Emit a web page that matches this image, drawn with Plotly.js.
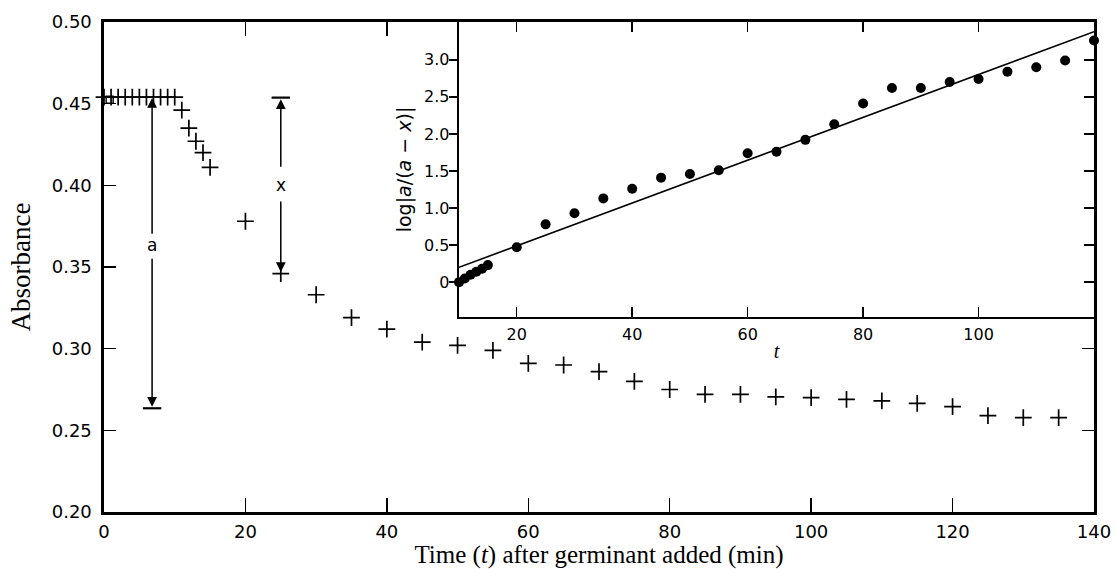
<!DOCTYPE html>
<html>
<head>
<meta charset="utf-8">
<script src="https://cdn.plot.ly/plotly-3.0.1.min.js"></script>
<style>html,body{margin:0;padding:0;background:#fff;}#chart{width:1117px;height:569px;}</style>
</head>
<body>
<div id="chart"></div>
<script>
// Main chart: absorbance vs time
var mainT = [0,1,2,3,4,5,6,7,8,9,10,11,12,13,14,15,20,25,30,35,40,45,50,55,60,65,70,75,80,85,90,95,100,105,110,115,120,125,130,135];
var mainA = [0.454,0.454,0.454,0.454,0.454,0.454,0.454,0.454,0.454,0.454,0.454,0.446,0.435,0.427,0.420,0.411,0.378,0.346,0.333,0.319,0.312,0.304,0.302,0.299,0.291,0.290,0.286,0.280,0.275,0.272,0.272,0.2705,0.270,0.269,0.268,0.2665,0.2645,0.259,0.2578,0.2578];
// initial reading (open square)
var startT = [0.8];
var startA = [0.4525];

// Inset: log[a/(a-x)] vs t
var insetT = [10,11,12,13,14,15,20,25,30,35,40,45,50,55,60,65,70,75,80,85,90,95,100,105,110,115,120];
var insetY = [0,0.05,0.10,0.14,0.18,0.23,0.47,0.78,0.93,1.13,1.26,1.41,1.46,1.51,1.74,1.76,1.92,2.13,2.41,2.62,2.62,2.70,2.74,2.84,2.90,2.99,3.26];
var fitT = [10,120];
var fitY = [0.20,3.38];

// Tick labels
var mainXTicks = [0,20,40,60,80,100,120,140];
var mainYTicks = [0.20,0.25,0.30,0.35,0.40,0.45,0.50];
var mainYText = ['0.20','0.25','0.30','0.35','0.40','0.45','0.50'];
var insetXTicks = [20,40,60,80,100];
var insetYTicks = [0,0.5,1.0,1.5,2.0,2.5,3.0];
var insetYText = ['0','0.5','1.0','1.5','2.0','2.5','3.0'];

// Marked quantities a and x
var aT = 6.8, aTop = 0.4535, aBottom = 0.2635, aLabel = 0.3635;
var xT = 25, xTop = 0.4537, xBottom = mainA[mainT.indexOf(25)], xLabel = 0.400;

var sans = 'DejaVu Sans, Liberation Sans, Arial, sans-serif';
var serif = 'Liberation Serif, Times New Roman, serif';

var traces = [
  {x: mainT, y: mainA, type: 'scatter', mode: 'markers', xaxis: 'x', yaxis: 'y', cliponaxis: false,
   marker: {symbol: 'cross-thin', size: 12, color: '#000', line: {color: '#000', width: 1.7}}},
  {x: startT, y: startA, type: 'scatter', mode: 'markers', xaxis: 'x', yaxis: 'y', cliponaxis: false,
   marker: {symbol: 'square-open', size: 7, color: '#000', line: {color: '#000', width: 1.4}}},
  {x: fitT, y: fitY, type: 'scatter', mode: 'lines', xaxis: 'x2', yaxis: 'y2', cliponaxis: false,
   line: {color: '#000', width: 1.6}},
  {x: insetT, y: insetY, type: 'scatter', mode: 'markers', xaxis: 'x2', yaxis: 'y2', cliponaxis: false,
   marker: {symbol: 'circle', size: 10, color: '#000'}},
  {x: [], y: [], type: 'scatter', xaxis: 'x3', yaxis: 'y', showlegend: false},
  {x: [], y: [], type: 'scatter', xaxis: 'x2', yaxis: 'y4', showlegend: false},
  {x: [], y: [], type: 'scatter', xaxis: 'x', yaxis: 'y5', showlegend: false}
];

function arrow(x, y, ay) {
  return {x: x, y: y, ax: x, ay: ay, xref: 'x', yref: 'y', axref: 'x', ayref: 'y', text: '',
    showarrow: true, arrowhead: 2, arrowsize: 1.3, arrowwidth: 1.5, arrowcolor: '#000', standoff: 0, startstandoff: 0};
}
function bar(x, y) {
  return {type: 'line', xref: 'x', yref: 'y', x0: x - 1.3, x1: x + 1.3, y0: y, y1: y, line: {color: '#000', width: 2.2}};
}

var layout = {
  width: 1117, height: 569,
  margin: {l: 104, r: 23, t: 22, b: 57},
  paper_bgcolor: '#fff', plot_bgcolor: '#fff',
  showlegend: false,
  xaxis: {domain: [0, 1], range: [0, 140], anchor: 'y', tickvals: mainXTicks, ticks: 'inside', ticklen: 14, tickwidth: 1.5,
    tickcolor: '#000', showline: true, linewidth: 2.6, linecolor: '#000', mirror: true, showgrid: false, zeroline: false,
    tickfont: {family: sans, size: 18, color: '#000'}, ticklabelstandoff: 2,
    title: {text: 'Time (<i>t</i>) after germinant added (min)', font: {family: serif, size: 25, color: '#000'}, standoff: 5}},
  yaxis: {domain: [0, 1], range: [0.20, 0.50], anchor: 'x', tickvals: mainYTicks, ticktext: mainYText, ticks: 'inside', ticklen: 12,
    tickwidth: 1.5, tickcolor: '#000', showline: true, linewidth: 2.6, linecolor: '#000', mirror: true, showgrid: false, zeroline: false,
    tickfont: {family: sans, size: 18, color: '#000'}, ticklabelstandoff: 6,
    title: {text: 'Absorbance', font: {family: serif, size: 27, color: '#000'}, standoff: 14}},
  xaxis3: {overlaying: 'x', side: 'top', anchor: 'y', range: [0, 140], tickvals: [20, 40], ticks: 'inside', ticklen: 14, tickwidth: 1.5,
    tickcolor: '#000', showticklabels: false, showline: false, showgrid: false, zeroline: false},
  yaxis5: {overlaying: 'y', side: 'right', anchor: 'x', range: [0.20, 0.50], tickvals: [0.25, 0.30], ticks: 'inside', ticklen: 12, tickwidth: 1.5,
    tickcolor: '#000', showticklabels: false, showline: false, showgrid: false, zeroline: false},
  xaxis2: {domain: [0.3586, 1], range: [10, 120], anchor: 'y2', tickvals: insetXTicks, ticks: 'inside', ticklen: 10, tickwidth: 1.5,
    tickcolor: '#000', showline: true, linewidth: 2.4, linecolor: '#000', mirror: 'ticks', showgrid: false, zeroline: false,
    tickfont: {family: sans, size: 16, color: '#000'}, ticklabelstandoff: 1,
    title: {text: '<i>t</i>', font: {family: serif, size: 20, color: '#000'}, standoff: 2}},
  yaxis2: {domain: [0.398, 1], range: [-0.47, 3.51], anchor: 'x2', tickvals: insetYTicks, ticktext: insetYText, ticks: 'outside', ticklen: 8,
    tickwidth: 1.5, tickcolor: '#000', showline: true, linewidth: 2.4, linecolor: '#000', showgrid: false, zeroline: false,
    tickfont: {family: sans, size: 16, color: '#000'}, ticklabelstandoff: -4,
    title: {text: 'log|<i>a</i>/(<i>a</i> \u2212 <i>x</i>)|', font: {family: sans, size: 19, color: '#000'}, standoff: 8}},
  yaxis4: {overlaying: 'y2', side: 'right', anchor: 'x2', range: [-0.47, 3.51], tickvals: insetYTicks, ticks: 'inside', ticklen: 10,
    tickwidth: 1.5, tickcolor: '#000', showticklabels: false, showline: false, showgrid: false, zeroline: false},
  shapes: [bar(aT, aBottom), bar(xT, xTop)],
  annotations: [
    arrow(aT, aTop, aLabel + 0.006),
    arrow(aT, aBottom + 0.001, aLabel - 0.0075),
    {x: aT, y: aLabel, xref: 'x', yref: 'y', text: 'a', showarrow: false, font: {family: sans, size: 17, color: '#000'}},
    arrow(xT, xTop - 0.001, xLabel + 0.0105),
    arrow(xT, xBottom + 0.001, xLabel - 0.009),
    {x: xT, y: xLabel, xref: 'x', yref: 'y', text: 'x', showarrow: false, font: {family: sans, size: 17, color: '#000'}}
  ]
};

Plotly.newPlot('chart', traces, layout, {displayModeBar: false, staticPlot: true});
</script>
</body>
</html>
